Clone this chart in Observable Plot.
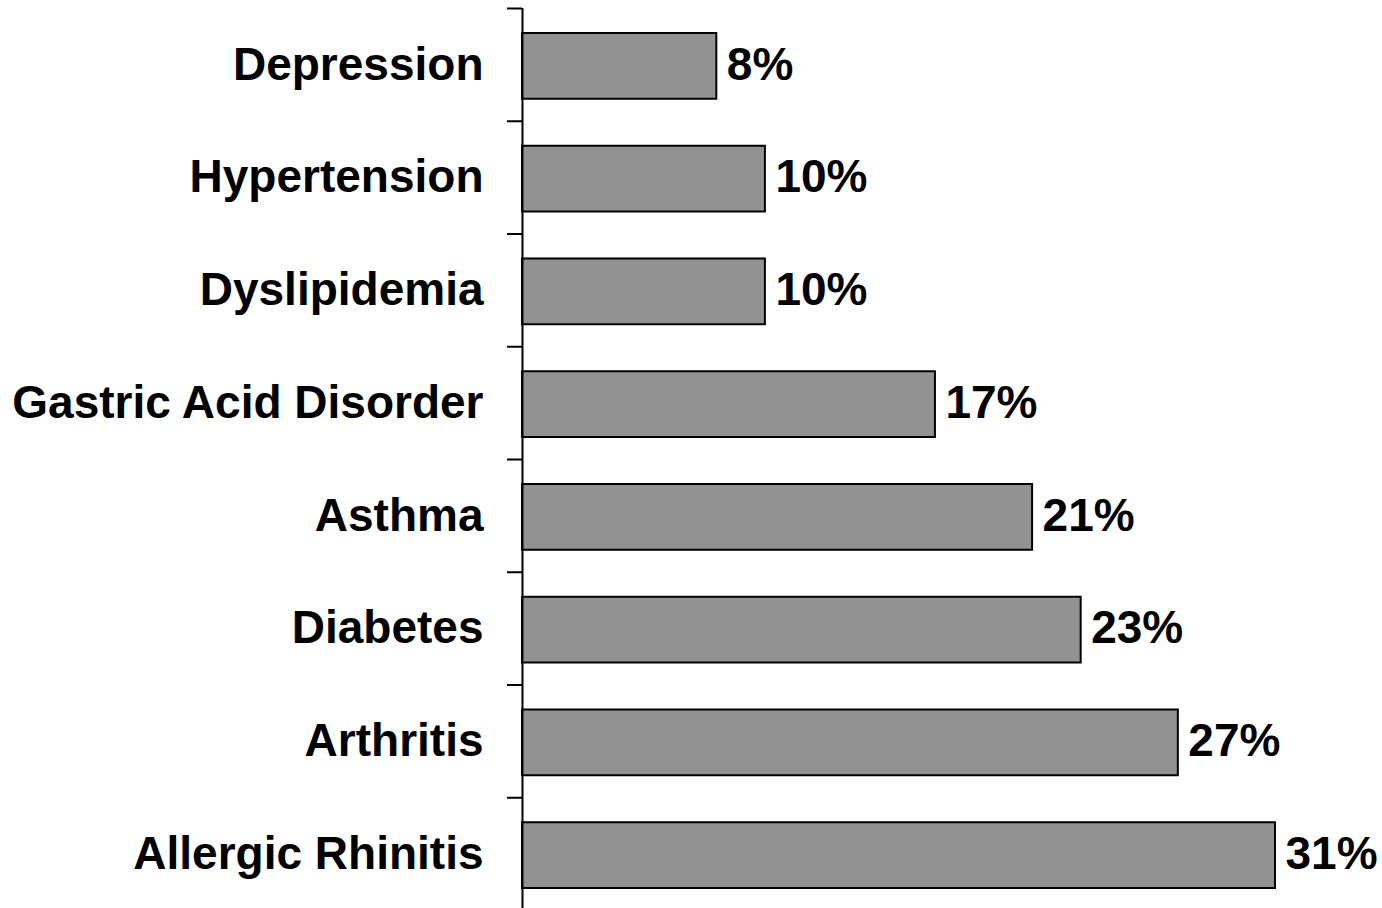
<!DOCTYPE html>
<html>
<head>
<meta charset="utf-8">
<script src="https://cdn.jsdelivr.net/npm/d3@7"></script>
<script src="https://cdn.jsdelivr.net/npm/@observablehq/plot@0.6"></script>
<style>
  html, body { margin: 0; padding: 0; background: #fff; }
  #chart svg { display: block; }
</style>
</head>
<body>
<div id="chart"></div>
<script>
const categories = ["Depression", "Hypertension", "Dyslipidemia", "Gastric Acid Disorder", "Asthma", "Diabetes", "Arthritis", "Allergic Rhinitis"];
const values = [8, 10, 10, 17, 21, 23, 27, 31];

const data = categories.map((c, i) => ({category: c, value: values[i]}));

const W = 1382, H = 908;
const yRange = [8, 910];
const bw = (yRange[1] - yRange[0]) / categories.length;
const font = "'Liberation Sans', Arial, sans-serif";

const chart = Plot.plot({
  width: W,
  height: H,
  marginLeft: 522,
  marginRight: 107,
  marginTop: 8,
  marginBottom: 0,
  style: {fontFamily: font, background: "#fff", overflow: "visible"},
  x: {domain: [0, d3.max(values)], axis: null},
  y: {domain: categories, range: yRange, padding: 0, round: false, axis: null},
  marks: [
    Plot.barX(data, {
      x: "value",
      y: "category",
      fill: "#929292",
      stroke: "#000",
      strokeWidth: 2,
      insetTop: 25,
      insetBottom: 22
    }),
    Plot.ruleX([0], {stroke: "#000", strokeWidth: 2}),
    Plot.axisY({
      anchor: "left",
      tickSize: 15,
      text: null,
      label: null,
      dy: -bw / 2,
      stroke: "#000",
      strokeWidth: 2,
      strokeOpacity: 1
    }),
    Plot.axisY({
      anchor: "left",
      tickSize: 0,
      tickPadding: 39,
      fontSize: 46,
      fontWeight: "bold",
      fill: "#000",
      label: null
    }),
    Plot.text(data, {
      x: "value",
      y: "category",
      text: d => `${d.value}%`,
      textAnchor: "start",
      dx: 10,
      fontSize: 46,
      fontWeight: "bold",
      fill: "#000"
    })
  ]
});

document.getElementById("chart").appendChild(chart);
</script>
</body>
</html>
